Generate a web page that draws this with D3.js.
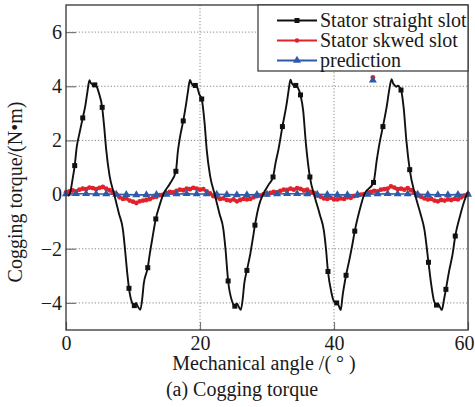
<!DOCTYPE html>
<html>
<head>
<meta charset="utf-8">
<script src="https://cdn.jsdelivr.net/npm/d3@7"></script>
<style>
  body { margin: 0; background: #fff; }
  svg text { font-family: "Liberation Serif", "DejaVu Serif", serif; }
</style>
</head>
<body>
<script>
// ---- data ----
// black: [angle, torque, marker?]
const straightSlot = [
  [0.3,-0.05],[0.6,0.05],[1.0,0.6],[1.3,1.07,1],[1.6,1.75],[2.0,2.25],[2.5,2.83,1],[2.9,3.3],[3.2,3.8],[3.5,4.22],
  [3.7,4.12],[3.9,4.08],[4.1,4.0],[4.3,4.05,1],[4.6,3.98],[4.9,3.76],[5.4,3.22,1],[5.7,2.5],[6.0,1.66],[6.5,0.7],
  [7.2,0.0],[7.9,-0.7],[8.5,-1.3],[8.8,-2.0],[9.1,-2.8],[9.4,-3.46,1],[9.8,-3.95],[10.2,-4.1,1],[10.45,-4.0],[10.7,-4.12],
  [11.1,-4.25],[11.4,-3.8],[11.6,-3.3],[12.2,-2.7,1],[12.5,-2.2],[12.9,-1.6],[13.4,-0.9,1],[13.9,-0.45],[14.5,0.0],[15.5,0.4],
  [16.4,0.86,1],[16.7,1.6],[17.0,2.1],[17.5,2.72,1],[17.9,3.3],[18.2,3.8],[18.5,4.23],[18.7,4.12],[18.9,4.05],[19.1,3.98],
  [19.3,4.03,1],[19.6,3.95],[19.9,3.7],[20.25,3.53,1],[20.7,2.6],[21.0,1.66],[21.5,0.7],[22.2,0.0],[22.9,-0.7],[23.5,-1.3],
  [23.8,-2.0],[24.2,-3.19,1],[24.8,-3.95],[25.2,-4.12,1],[25.5,-4.02],[25.8,-4.15],[26.1,-4.25],[26.4,-3.8],[26.6,-3.3],[27.0,-2.8,1],
  [27.5,-2.2],[27.9,-1.6],[28.2,-1.13,1],[28.8,-0.4],[29.4,0.0],[30.2,0.35],[30.9,0.65,1],[31.3,1.2],[31.7,1.65],[32.3,2.51,1],
  [32.9,3.3],[33.2,3.8],[33.5,4.24],[33.7,4.12],[33.9,4.05],[34.1,3.98],[34.3,4.03,1],[34.6,3.95],[35.0,3.68,1],[35.4,3.1],
  [35.8,1.9],[36.4,0.65,1],[37.2,-0.15],[37.9,-0.75],[38.5,-1.35],[38.8,-2.0],[39.1,-2.84,1],[39.6,-3.6],[40.0,-3.95],[40.4,-4.0,1],
  [40.7,-4.1],[41.0,-4.26],[41.3,-3.7],[41.8,-2.98,1],[42.3,-2.4],[42.7,-1.9],[43.1,-1.35,1],[43.8,-0.6],[44.5,0.0],[45.9,0.45,1],
  [46.4,1.3],[46.8,1.9],[47.3,2.51,1],[47.9,3.3],[48.2,3.8],[48.6,4.26],[48.8,4.12],[49.0,4.05],[49.3,3.98],[49.5,4.02],
  [50.0,3.86,1],[50.4,3.2],[50.8,2.0],[51.3,0.92,1],[52.1,0.0],[52.9,-0.7],[53.5,-1.3],[54.1,-2.5,1],[54.5,-3.3],[54.9,-3.9],
  [55.3,-4.08,1],[55.6,-4.05],[55.8,-4.15],[56.1,-4.26],[56.4,-3.9],[56.7,-3.5,1],[57.2,-2.8],[57.7,-2.2],[58.1,-1.53,1],[58.8,-0.8],
  [59.5,-0.2],[60.0,0.1]
];

// red, every 0.5 degree from 0 to 60
const skewedStep = 0.5;
const skewedSlot = [
  0.08,0.12,0.15,0.12,0.18,0.22,0.20,0.26,0.24,0.20,0.25,0.28,0.22,0.16,0.08,0.02,-0.10,-0.16,-0.14,-0.22,
  -0.26,-0.31,-0.25,-0.22,-0.20,-0.17,-0.10,-0.08,-0.02,0.00,0.05,0.10,0.08,0.14,0.18,0.16,0.22,0.20,0.25,0.22,
  0.18,0.20,0.12,0.04,-0.06,-0.10,-0.16,-0.14,-0.20,-0.22,-0.18,-0.25,-0.20,-0.16,-0.18,-0.16,-0.10,-0.06,-0.04,0.02,
  0.00,0.06,0.10,0.08,0.14,0.18,0.17,0.22,0.18,0.24,0.21,0.15,0.18,0.10,0.06,-0.04,-0.08,-0.14,-0.16,-0.12,
  -0.18,-0.18,-0.14,-0.16,-0.10,-0.12,-0.06,-0.04,0.00,0.02,0.08,0.10,0.14,0.12,0.18,0.20,0.22,0.30,0.26,0.20,
  0.22,0.18,0.24,0.16,0.06,-0.04,-0.08,-0.14,-0.18,-0.16,-0.22,-0.25,-0.20,-0.22,-0.18,-0.20,-0.16,-0.18,-0.10,-0.04,
  0.02
];

// blue, every 1.5 degree from 0 to 60
const predStep = 1.5;
const prediction = [
  0.02,0.03,0.03,0.02,0.02,0.01,0.00,-0.01,-0.01,0.00,0.01,0.02,0.03,0.02,0.02,0.01,0.00,-0.01,-0.01,0.00,
  0.01,0.02,0.03,0.03,0.02,0.01,0.00,-0.01,-0.01,0.00,0.01,0.02,0.03,0.02,0.02,0.01,0.00,-0.01,-0.01,0.00,
  0.01
];

// stray markers seen near (46, 4.3)
const strayRed = [[45.8, 4.33]];
const strayBlue = [[45.8, 4.22]];

const xTicks = [0, 20, 40, 60];
const yTicks = [-4, -2, 0, 2, 4, 6];
const legendLabels = ['Stator straight slot', 'Stator skwed slot', 'prediction'];
const colors = ['#111111', '#e0222b', '#2e5aa8'];

// ---- layout ----
const W = 475, H = 407;
const padL = 66, padR = 468, padT = 5, padB = 330;
const serif = '"Liberation Serif", "DejaVu Serif", serif';
const fs = 20;

const svg = d3.select('body').append('svg')
    .attr('width', W)
    .attr('height', H);

const x = d3.scaleLinear().domain([0, 60]).range([padL, padR]);
const y = d3.scaleLinear().domain([-5, 7]).range([padB, padT]);

// grid
svg.append('g').selectAll('line')
    .data(yTicks.filter(d => d !== 0)).enter()
    .append('line')
        .attr('x1', padL).attr('x2', padR)
        .attr('y1', d => y(d)).attr('y2', d => y(d))
        .attr('stroke', '#888').attr('stroke-width', 1)
        .attr('stroke-dasharray', '1.2,2');

svg.append('g').selectAll('line')
    .data([20, 40]).enter()
    .append('line')
        .attr('x1', d => x(d)).attr('x2', d => x(d))
        .attr('y1', padT).attr('y2', padB)
        .attr('stroke', '#888').attr('stroke-width', 1)
        .attr('stroke-dasharray', '1.2,2');

// axes
const xAxis = svg.append('g')
    .attr('transform', 'translate(0,' + padB + ')')
    .call(d3.axisBottom(x).tickValues(xTicks).tickFormat(d3.format('d'))
        .tickSizeInner(-8).tickSizeOuter(0).tickPadding(6));

const yAxis = svg.append('g')
    .attr('transform', 'translate(' + padL + ',0)')
    .call(d3.axisLeft(y).tickValues(yTicks).tickFormat(d3.format('d'))
        .tickSizeInner(-10).tickSizeOuter(0).tickPadding(4));

[xAxis, yAxis].forEach(function (g) {
    g.attr('font-family', serif).attr('font-size', fs);
    g.select('.domain').remove();
    g.selectAll('.tick line').attr('stroke', '#777').attr('stroke-width', 1.2);
    g.selectAll('.tick text')
        .attr('fill', '#1a1a1a')
        .attr('font-size', fs)
        .attr('font-family', serif);
});

// last x label sits right at the window edge
xAxis.selectAll('.tick text').filter(d => d === 60).attr('dx', -4);

// ---- series ----
const blackLine = d3.line()
    .x(d => x(d[0]))
    .y(d => y(d[1]))
    .curve(d3.curveMonotoneX);

const redPts = skewedSlot.map((v, i) => [i * skewedStep, v]);
const bluePts = prediction.map((v, i) => [i * predStep, v]);

const plot = svg.append('g');

// blue prediction
plot.append('path')
    .attr('fill', 'none')
    .attr('stroke', colors[2])
    .attr('stroke-width', 1.6)
    .attr('d', d3.line().x(d => x(d[0])).y(d => y(d[1]))(bluePts));

// red skewed slot
plot.append('path')
    .attr('fill', 'none')
    .attr('stroke', colors[1])
    .attr('stroke-width', 2)
    .attr('d', d3.line().x(d => x(d[0])).y(d => y(d[1]))(redPts));

plot.selectAll('circle.red')
    .data(redPts.concat(strayRed)).enter()
    .append('circle')
        .attr('class', 'red')
        .attr('cx', d => x(d[0]))
        .attr('cy', d => y(d[1]))
        .attr('r', 2.4)
        .attr('fill', colors[1]);

const tri = d3.symbol().type(d3.symbolTriangle).size(28);

plot.selectAll('path.tri')
    .data(bluePts.concat(strayBlue)).enter()
    .append('path')
        .attr('class', 'tri')
        .attr('d', tri)
        .attr('transform', d => 'translate(' + x(d[0]) + ',' + y(d[1]) + ')')
        .attr('fill', colors[2]);

// black straight slot
plot.append('path')
    .attr('fill', 'none')
    .attr('stroke', colors[0])
    .attr('stroke-width', 1.9)
    .attr('stroke-linejoin', 'round')
    .attr('d', blackLine(straightSlot));

plot.selectAll('rect.sq')
    .data(straightSlot.filter(d => d[2])).enter()
    .append('rect')
        .attr('class', 'sq')
        .attr('x', d => x(d[0]) - 2.5)
        .attr('y', d => y(d[1]) - 2.5)
        .attr('width', 5)
        .attr('height', 5)
        .attr('fill', colors[0]);

// frame
svg.append('rect')
    .attr('x', padL).attr('y', padT)
    .attr('width', padR - padL).attr('height', padB - padT)
    .attr('fill', 'none')
    .attr('stroke', '#333')
    .attr('stroke-width', 1.3);

// ---- legend ----
const legend = svg.append('g');

legend.append('rect')
    .attr('x', 258).attr('y', padT)
    .attr('width', padR - 258).attr('height', 66)
    .attr('fill', '#fff')
    .attr('stroke', '#333')
    .attr('stroke-width', 1.2);

const rows = legend.selectAll('g.row')
    .data(legendLabels).enter()
    .append('g')
        .attr('class', 'row')
        .attr('transform', (d, i) => 'translate(0,' + (20.5 + i * 20) + ')');

rows.append('line')
    .attr('x1', 277).attr('x2', 317)
    .attr('y1', 0).attr('y2', 0)
    .attr('stroke', (d, i) => colors[i])
    .attr('stroke-width', (d, i) => i === 0 ? 2 : 1.8);

rows.each(function (d, i) {
    const g = d3.select(this);
    if (i === 0) {
        g.append('rect').attr('x', 294.5).attr('y', -2.5).attr('width', 5).attr('height', 5).attr('fill', colors[0]);
    } else if (i === 1) {
        g.append('circle').attr('cx', 297).attr('cy', 0).attr('r', 2.3).attr('fill', colors[1]);
    } else {
        g.append('path').attr('d', tri).attr('transform', 'translate(297,0)').attr('fill', colors[2]);
    }
});

rows.append('text')
    .attr('x', 320)
    .attr('y', 6)
    .attr('font-family', serif)
    .attr('font-size', fs)
    .attr('fill', '#1a1a1a')
    .text(d => d);

// ---- titles ----
svg.append('text')
    .attr('transform', 'translate(22,192) rotate(-90)')
    .attr('text-anchor', 'middle')
    .attr('font-family', serif)
    .attr('font-size', fs)
    .attr('fill', '#1a1a1a')
    .text('Cogging torque/(N\u2022m)');

svg.append('text')
    .attr('x', 264)
    .attr('y', 370)
    .attr('text-anchor', 'middle')
    .attr('font-family', serif)
    .attr('font-size', fs)
    .attr('fill', '#1a1a1a')
    .text('Mechanical angle /( \u00b0 )');

svg.append('text')
    .attr('x', 242)
    .attr('y', 396)
    .attr('text-anchor', 'middle')
    .attr('font-family', serif)
    .attr('font-size', fs)
    .attr('fill', '#1a1a1a')
    .text('(a) Cogging torque');
</script>
</body>
</html>
